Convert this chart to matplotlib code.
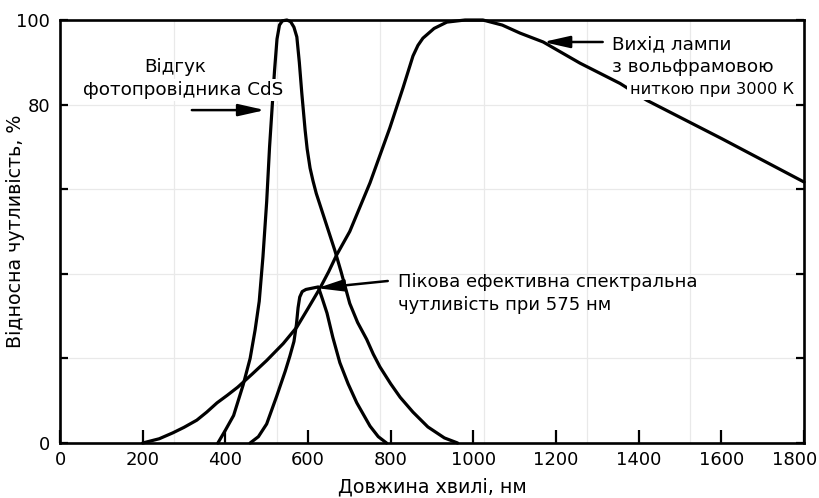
import numpy as np
import matplotlib
matplotlib.use('Agg')
import matplotlib.pyplot as plt
import matplotlib.transforms as mtransforms

plt.rcParams['font.family'] = ['DejaVu Sans']

# CdS photoconductor response
cds_nm = [382, 400, 420, 443, 460, 472, 482, 491, 500, 507, 513, 519, 525, 531, 538, 549, 558, 566,
          573, 579, 585, 593, 598, 605, 612, 620, 635, 650, 665, 680, 701, 720, 742, 758, 774, 800,
          823, 854, 890, 930, 962]
cds_pct = [0, 3, 6.5, 13.7, 20, 26.7, 33.5, 44, 57, 70, 79, 88, 95.5, 98.8, 99.8, 100, 99.6, 98.3,
           96, 90, 82.7, 74, 69.5, 65, 62, 59, 54.5, 50, 45.5, 40.5, 33, 28.5, 24.5, 21, 18, 14,
           10.8, 7.3, 3.8, 1.2, 0]

# tungsten lamp output at 3000 K
lamp_nm = [200, 240, 273, 300, 331, 355, 380, 405, 430, 465, 500, 540, 573, 600, 629, 650, 669, 701,
           750, 798, 830, 854, 866, 878, 905, 936, 980, 1023, 1070, 1113, 1169, 1258, 1355, 1420,
           1600, 1800]
lamp_pct = [0, 1, 2.4, 3.7, 5.4, 7.3, 9.5, 11.3, 13.2, 16.3, 19.5, 23.5, 27.4, 31.8, 36.6, 40.5,
            44.4, 50, 61.5, 74.5, 84, 91.5, 94, 95.7, 98, 99.5, 100, 100, 98.8, 96.9, 94.8, 89.8,
            85, 81, 72, 61.7]

# peak effective spectral response
peak_nm = [460, 480, 500, 524, 545, 556, 566, 572, 576, 580, 586, 595, 610, 625, 635, 646, 660, 677,
           697, 718, 750, 770, 790]
peak_pct = [0, 1.5, 4.5, 11, 17, 20.5, 24, 28, 32, 34.5, 35.8, 36.3, 36.6, 36.9, 34, 30.7, 25, 19,
            14, 9.5, 4, 1.5, 0]

x_ticks = [0, 200, 400, 600, 800, 1000, 1200, 1400, 1600, 1800]
y_ticks = [0, 20, 40, 60, 80, 100]
y_labels = ['0', '', '', '', '80', '100']

fig = plt.figure(figsize=(8.19, 4.98), dpi=100)
ax = fig.add_axes([60 / 819, 55 / 498, 744 / 819, 423 / 498])

lw = 2.3
for xs, ys in [(cds_nm, cds_pct), (lamp_nm, lamp_pct), (peak_nm, peak_pct)]:
    ax.plot(xs, ys, color='black', lw=lw, solid_joinstyle='round', solid_capstyle='round',
            zorder=3, clip_on=False)

ax.set_xlim(0, 1800)
ax.set_ylim(0, 100)

ax.set_xticks(x_ticks)
ax.set_xticklabels([str(v) for v in x_ticks])
ax.set_yticks(y_ticks)
ax.set_yticklabels(y_labels)

# faint background grid
ax.set_xticks([275, 525, 775, 1025, 1275, 1525], minor=True)
ax.grid(True, which='minor', axis='x', color='#e9e9e9', lw=0.9)
ax.grid(True, which='major', axis='y', color='#e9e9e9', lw=0.9)
ax.tick_params(which='minor', length=0)

ax.tick_params(axis='x', direction='in', length=9.5, width=1.6, pad=6, labelsize=13)
ax.tick_params(axis='y', direction='in', length=6, width=1.6, pad=7, labelsize=13, right=True)

# last x label sits a little inside the figure edge
last = ax.get_xticklabels()[-1]
last.set_transform(last.get_transform() + mtransforms.ScaledTranslation(-9 / 100, 0, fig.dpi_scale_trans))

for s in ax.spines.values():
    s.set_linewidth(1.9)

ax.set_xlabel('Довжина хвилі, нм', fontsize=13.7)
ax.xaxis.set_label_coords(0.5, -0.082)
ax.set_ylabel('Відносна чутливість, %', fontsize=13.7)
ax.yaxis.set_label_coords(-0.047, 0.5)

fs = 13.2
arrow = dict(arrowstyle='-|>,head_length=0.8,head_width=0.18', color='black', lw=1.8,
             mutation_scale=20, shrinkA=0, shrinkB=0)
white = dict(facecolor='white', edgecolor='none', pad=1.5)

# CdS label
ax.text(278, 88.9, 'Відгук', ha='center', va='center', fontsize=fs)
ax.text(298, 83.5, 'фотопровідника CdS', ha='center', va='center', fontsize=fs, zorder=4,
        bbox=white)
ax.annotate('', xy=(496, 78.7), xytext=(319, 78.7), arrowprops=arrow)

# lamp label
ax.text(1335, 94.3, 'Вихід лампи', ha='left', va='center', fontsize=fs)
ax.text(1335, 88.9, 'з вольфрамовою', ha='left', va='center', fontsize=fs)
ax.text(1379, 83.6, 'ниткою при 3000 К', ha='left', va='center', fontsize=11.7, zorder=4,
        bbox=dict(facecolor='white', edgecolor='none', pad=2))
ax.annotate('', xy=(1169, 94.8), xytext=(1313, 94.8), arrowprops=arrow)

# peak label
ax.text(818, 38.1, 'Пікова ефективна спектральна', ha='left', va='center', fontsize=13)
ax.text(818, 32.6, 'чутливість при 575 нм', ha='left', va='center', fontsize=13)
ax.annotate('', xy=(622, 36.6), xytext=(793, 38.3), arrowprops=arrow)

plt.savefig('out.png', dpi=100)
